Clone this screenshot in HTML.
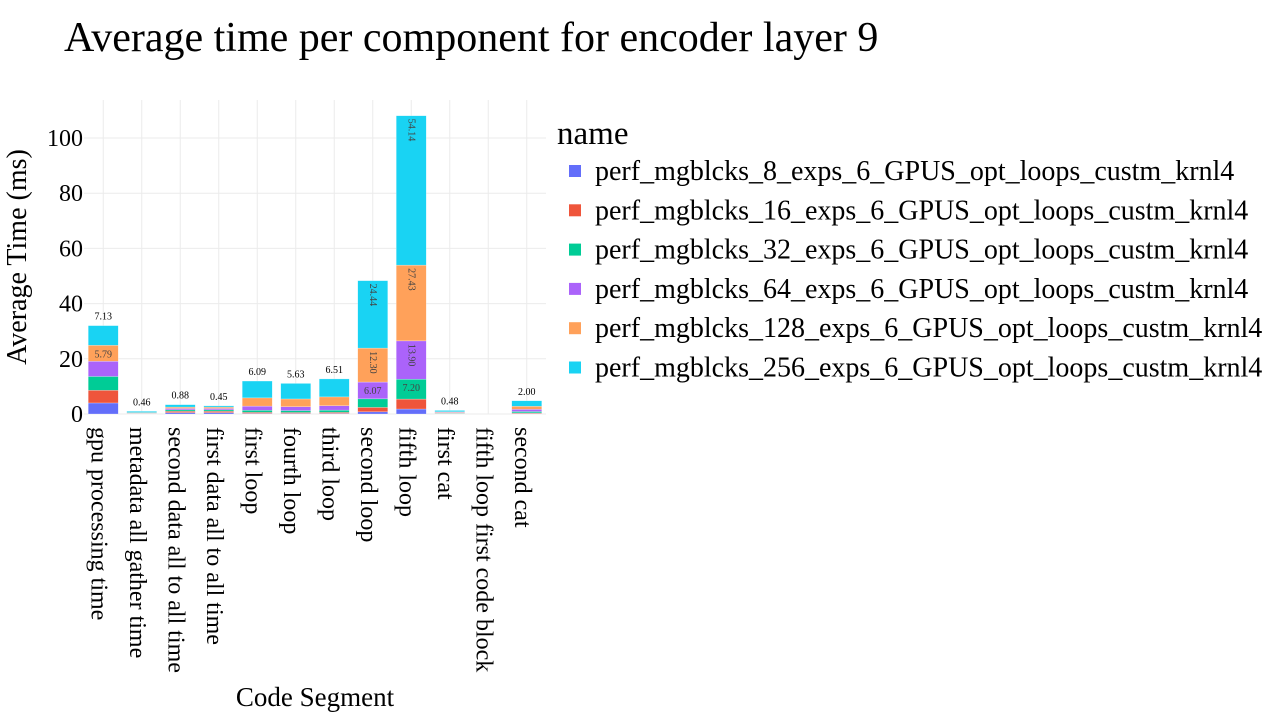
<!DOCTYPE html>
<html><head><meta charset="utf-8"><style>
html,body{margin:0;padding:0;background:#fff;}
svg{display:block;font-family:"Liberation Serif",serif;}
</style></head><body>
<svg id="chart" width="1280" height="720" xmlns="http://www.w3.org/2000/svg">
<text x="64" y="51" font-size="42" fill="#000">Average time per component for encoder layer 9</text>
<g id="grid"></g><g id="bars"></g><g id="labels"></g><g id="axes"></g><g id="legend"></g>
<text transform="translate(26,257) rotate(-90)" text-anchor="middle" font-size="28">Average Time (ms)</text>
<text x="315" y="706" text-anchor="middle" font-size="27">Code Segment</text>
</svg>
<script>
const categories = ["gpu processing time","metadata all gather time","second data all to all time","first data all to all time","first loop","fourth loop","third loop","second loop","fifth loop","first cat","fifth loop first code block","second cat"];
const seriesNames = ["perf_mgblcks_8_exps_6_GPUS_opt_loops_custm_krnl4","perf_mgblcks_16_exps_6_GPUS_opt_loops_custm_krnl4","perf_mgblcks_32_exps_6_GPUS_opt_loops_custm_krnl4","perf_mgblcks_64_exps_6_GPUS_opt_loops_custm_krnl4","perf_mgblcks_128_exps_6_GPUS_opt_loops_custm_krnl4","perf_mgblcks_256_exps_6_GPUS_opt_loops_custm_krnl4"];
const s8   = [4.0,0.03,0.5,0.5,0.2,0.2,0.2,0.8,1.8,0.1,0,0.15];
const s16  = [4.6,0.05,0.5,0.5,0.4,0.35,0.4,1.6,3.6,0.12,0,0.25];
const s32  = [5.0,0.08,0.5,0.5,0.75,0.7,0.8,3.1,7.20,0.15,0,0.5];
const s64  = [5.5,0.12,0.5,0.5,1.5,1.4,1.6,6.07,13.90,0.2,0,0.8];
const s128 = [5.79,0.23,0.5,0.5,3.0,2.8,3.2,12.30,27.43,0.24,0,1.1];
const s256 = [7.13,0.46,0.88,0.45,6.09,5.63,6.51,24.44,54.14,0.48,0,2.00];
const series = [s8,s16,s32,s64,s128,s256];
const colors = ["#636efa","#EF553B","#00cc96","#ab63fa","#FFA15A","#19d3f3"];
const yTicks = [0,20,40,60,80,100];

const NS="http://www.w3.org/2000/svg";
const X0=84,X1=546,Y0=414,pxPerUnit=2.76;
const band=(X1-X0)/categories.length, barW=band*0.78;
function xc(i){return X0+band*(i+0.5);}
function y(v){return Y0-v*pxPerUnit;}
function mk(tag,attrs,parent){const e=document.createElementNS(NS,tag);for(const k in attrs)e.setAttribute(k,attrs[k]);parent.appendChild(e);return e;}
const grid=document.getElementById('grid'),bars=document.getElementById('bars'),labels=document.getElementById('labels'),axes=document.getElementById('axes'),legend=document.getElementById('legend');

yTicks.forEach(t=>{
  const l=mk('line',{x1:X0,x2:X1,y1:y(t),y2:y(t),stroke:'#ebebeb','stroke-width':1},grid);
  
  
  const tx=mk('text',{x:X0-1,y:y(t)+8,'text-anchor':'end','font-size':24},axes);
  tx.textContent=t;
  
  
});
categories.forEach((c,i)=>{
  const l=mk('line',{x1:xc(i),x2:xc(i),y1:100,y2:Y0,stroke:'#ebebeb','stroke-width':1},grid);
  
  
  const tx=mk('text',{transform:`translate(${xc(i)-12},427) rotate(90)`,'font-size':24},axes);
  tx.textContent=c;
  
  
});
categories.forEach((c,i)=>{
  let base=0;
  series.forEach((s,k)=>{
    const v=s[i]; if(v<=0) return;
    const yt=y(base+v), h=v*pxPerUnit;
    const r=mk('rect',{x:xc(i)-barW/2,y:yt,width:barW,height:h,fill:colors[k],stroke:'rgba(255,255,255,0.5)','stroke-width':0.5},bars);
    
    
    const top=(k===series.length-1);
    let t=null;
    if(h>=(top?21:15.5)){
      if(v<10){t=mk('text',{x:xc(i),y:yt+12,'text-anchor':'middle','font-size':10,fill:'#444'},labels);}
      else{t=mk('text',{transform:`translate(${xc(i)-3},${yt+3}) rotate(90)`,'font-size':10,fill:'#444'},labels);}
    } else if(top){
      t=mk('text',{x:xc(i),y:yt-6,'text-anchor':'middle','font-size':10,fill:'#000'},labels);
    }
    if(t){t.textContent=v.toFixed(2);
      
      }
    base+=v;
  });
});
const lt=mk('text',{x:557,y:144,'font-size':33},legend);
lt.textContent='name';


seriesNames.forEach((n,k)=>{
  const cy=171+k*39.3;
  const g=mk('g',{},legend);
  
  
  mk('rect',{x:569,y:cy-6,width:12,height:12,fill:colors[k]},g);
  const t=mk('text',{x:595,y:cy+9,'font-size':28},g);
  t.textContent=n;
});
</script>
</body></html>
